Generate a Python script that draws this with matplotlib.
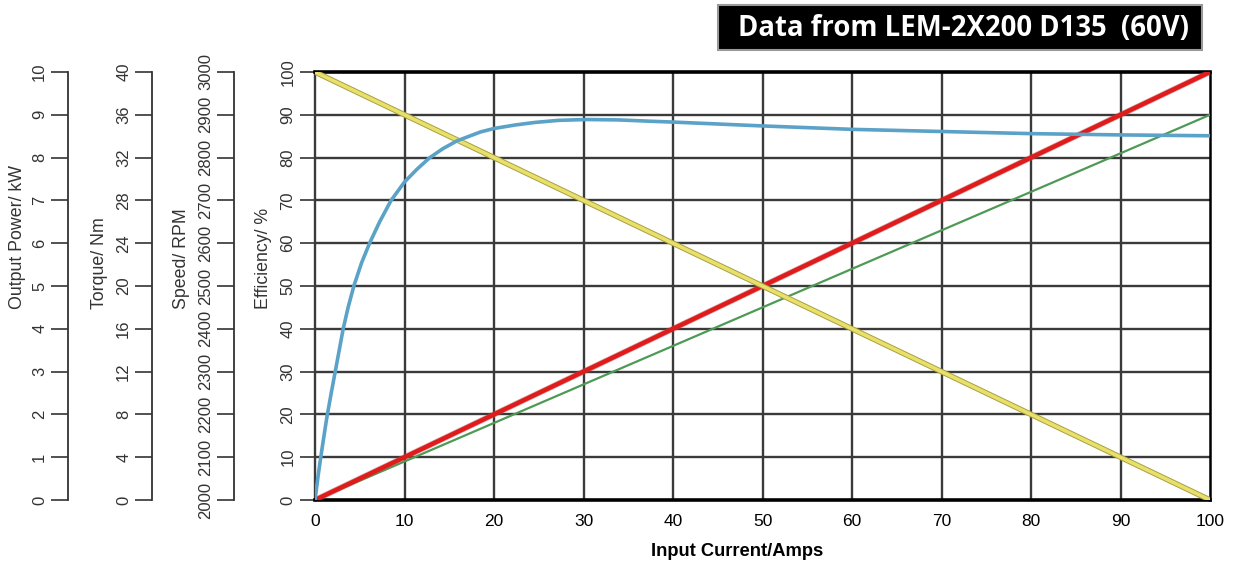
import matplotlib
matplotlib.use('Agg')
import matplotlib.pyplot as plt
import matplotlib.patheffects as pe
from matplotlib.patches import Rectangle

# values (all on the efficiency / % scale)
current = [0, 100]
red_line = [0, 100]
green_line = [0, 90]
yellow_line = [100, 0]

eff_current = [0, 0.37, 0.75, 1.3, 1.77, 2.26, 2.75, 3.15, 3.7, 4.34, 5.2, 6.1,
               7.2, 8.5, 10, 11.4, 12.83, 14.3, 15.85, 18.5, 20, 22.3, 24.5,
               27.2, 30.3, 34, 37.4, 40, 50, 60, 70, 80, 90, 100]
eff_values = [0, 6, 11.5, 19, 24.5, 30, 35.5, 40, 45, 50, 55.4, 60,
              64.9, 70, 74.3, 77.3, 80, 82.1, 83.9, 86.0, 86.8, 87.6, 88.2,
              88.7, 88.9, 88.8, 88.5, 88.3, 87.4, 86.6, 86.1, 85.6, 85.3, 85.1]

x_ticks = list(range(0, 101, 10))
eff_ticks = list(range(0, 101, 10))
power_ticks = list(range(0, 11))
torque_ticks = list(range(0, 41, 4))
speed_ticks = list(range(2000, 3001, 100))

title = 'Data from LEM-2X200 D135  (60V)'

plt.rcParams['font.family'] = ['Liberation Sans', 'DejaVu Sans']

W, H = 1236, 562
fig = plt.figure(figsize=(W / 100, H / 100), dpi=100)

left_px, right_px, top_px, bot_px = 315, 1210, 72, 500
b = 1 - bot_px / H
h = (bot_px - top_px) / H
ax = fig.add_axes([left_px / W, b, (right_px - left_px) / W, h])

grid_col = '#3a3a3a'
for v in x_ticks[1:-1]:
    ax.axvline(v, color=grid_col, lw=1.7, zorder=1)
for v in eff_ticks[1:-1]:
    ax.axhline(v, color=grid_col, lw=1.7, zorder=1)

ax.plot(current, green_line, color='#4e9a55', lw=1.6, zorder=3)
ax.plot(current, red_line, color='#e01b1b', lw=3.2, zorder=4,
        path_effects=[pe.Stroke(linewidth=4.2, foreground='#b05050', alpha=0.5), pe.Normal()])
ax.plot(current, yellow_line, color='#e8e06a', lw=2.6, zorder=4,
        path_effects=[pe.Stroke(linewidth=4.0, foreground='#a8a040'), pe.Normal()])
ax.plot(eff_current, eff_values, color='#5aa2c8', lw=2.6, zorder=5,
        solid_joinstyle='round')

ax.set_xlim(0, 100)
ax.set_ylim(0, 100)
ax.set_xticks(x_ticks)
ax.set_yticks(eff_ticks)
ax.tick_params(axis='x', length=0, pad=10, labelsize=12.5)
ax.tick_params(axis='y', direction='out', length=11, width=1.2, color='#333333',
               labelsize=12, labelcolor='#333333', labelrotation=90, pad=3)
for lab in ax.get_yticklabels():
    lab.set_va('center')
ax.spines['top'].set_linewidth(2.6)
ax.spines['bottom'].set_linewidth(2.6)
ax.spines['right'].set_linewidth(1.8)
ax.spines['left'].set_linewidth(1.7)
ax.spines['left'].set_color(grid_col)

fig.text(737 / W, 1 - 551 / H, 'Input Current/Amps', ha='center', va='center',
         fontsize=13.2, fontweight='bold')
fig.text(264 / W, 1 - 309 / H, 'Efficiency/ %', rotation=90, ha='center',
         va='bottom', fontsize=12.8, color='#333333')

# extra left scales
extra = [
    (68, power_ticks, 'Output Power/ kW', 18),
    (152, torque_ticks, 'Torque/ Nm', 100),
    (234, speed_ticks, 'Speed/ RPM', 181),
]
for spine_px, ticks, label, label_px in extra:
    a = fig.add_axes([spine_px / W, b, 0.0001, h])
    a.patch.set_visible(False)
    for s in ['top', 'right', 'bottom']:
        a.spines[s].set_visible(False)
    a.spines['left'].set_linewidth(1.3)
    a.spines['left'].set_color('#333333')
    a.xaxis.set_visible(False)
    a.set_ylim(ticks[0], ticks[-1])
    a.set_yticks(ticks)
    a.tick_params(axis='y', direction='out', length=12, width=1.2, color='#333333',
                  labelsize=12, labelcolor='#333333', labelrotation=90, pad=3)
    for lab in a.get_yticklabels():
        lab.set_va('center')
    fig.text(label_px / W, 1 - 309 / H, label, rotation=90, ha='center',
             va='bottom', fontsize=12.8, color='#333333')

# title box
fig.patches.append(Rectangle((718 / W, 1 - 50 / H), (1202 - 718) / W, 45 / H,
                             transform=fig.transFigure, facecolor='black',
                             edgecolor='#9a9a9a', lw=1.5))
fig.text(964 / W, 1 - 29 / H, title, ha='center', va='center', color='white',
         fontsize=19.8, fontweight='bold', family=['Open Sans', 'DejaVu Sans'])

fig.savefig('out.png', dpi=100, facecolor='white')
